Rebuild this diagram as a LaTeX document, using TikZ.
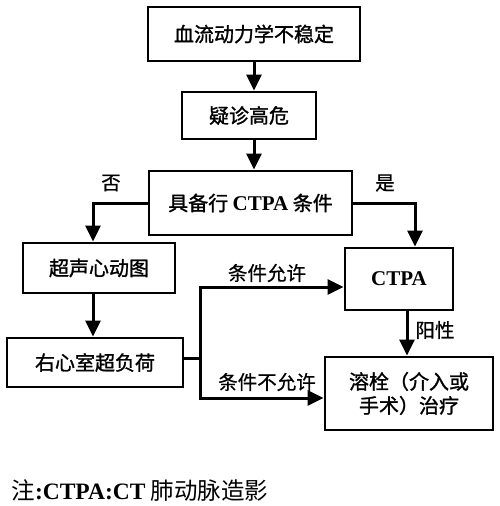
\documentclass[tikz,border=0pt]{standalone}
\usepackage{fontspec}
\setmainfont{Liberation Serif}
\newfontfamily\cjk[FakeBold=1.3]{Noto Sans CJK SC}
\newfontfamily\cjklab[FakeBold=0.7]{Noto Sans CJK SC}
\newfontfamily\cjknote{Noto Sans CJK SC}
\usetikzlibrary{arrows.meta}
\tikzset{
  box/.style={draw, line width=2.8pt, inner sep=0pt, font=\cjk\fontsize{20}{24}\selectfont},
  flow/.style={line width=3pt, -{Triangle[length=16pt,width=15pt]}},
  link/.style={line width=3pt},
  lab/.style={font=\cjklab\fontsize{19.5}{24}\selectfont}
}
\newcommand{\ctpa}{{\rmfamily\bfseries\fontsize{21}{24}\selectfont CTPA}}
\begin{document}
\begin{tikzpicture}[x=1pt,y=-1pt]
    \useasboundingbox (0,0) rectangle (500,506);

    % Boxes
    \node[box, minimum width=212pt, minimum height=54pt] (unstable) at (254,34) {血流动力学不稳定};
    \node[box, minimum width=134pt, minimum height=47pt] (suspect) at (249,115.5) {疑诊高危};
    \node[box, minimum width=203pt, minimum height=64pt] (ready) at (250.5,203) {具备行 \ctpa{} 条件};
    \node[box, minimum width=152pt, minimum height=50pt] (echo) at (99,268) {超声心动图};
    \node[box, minimum width=108pt, minimum height=62pt] (ctpa) at (399,279) {\ctpa};
    \node[box, minimum width=176pt, minimum height=49pt] (rvload) at (95,362.5) {右心室超负荷};
    \node[box, minimum width=168pt, minimum height=73pt, align=center] (therapy) at (409,393.5) {溶栓（介入或\\手术）治疗};

    % Helper points
    \coordinate (noX) at (93,0);
    \coordinate (yesX) at (415,0);
    \coordinate (split) at (200,358);
    \coordinate (posX) at (407,0);

    % Connectors
    \draw[flow] (unstable.south) -- (unstable.south |- suspect.north);
    \draw[flow] (unstable.south |- suspect.south) -- (unstable.south |- ready.north);
    \draw[flow] (ready.west) -| (noX |- echo.north);
    \draw[flow] (ready.east) -| (yesX |- ctpa.north);
    \draw[flow] (noX |- echo.south) -- (noX |- rvload.north);
    \draw[link] (rvload.east |- split) -- (split);
    \draw[flow] (split) |- (ctpa.west |- 0,287);
    \draw[flow] (split) |- (therapy.west |- 0,398);
    \draw[flow] (posX |- ctpa.south) -- (posX |- therapy.north);

    % Labels
    \node[lab] (no) at (111,183) {否};
    \node[lab] (yes) at (385,183) {是};
    \node[lab] (allow) at (267,273) {条件允许};
    \node[lab] (deny) at (267,382) {条件不允许};
    \node[lab] (positive) at (435,330) {阳性};

    % Note
    \node[anchor=west, font=\cjknote\fontsize{23.5}{28}\selectfont] (note) at (8,491) {注{\rmfamily\bfseries :CTPA:CT} 肺动脉造影};
\end{tikzpicture}
\end{document}
